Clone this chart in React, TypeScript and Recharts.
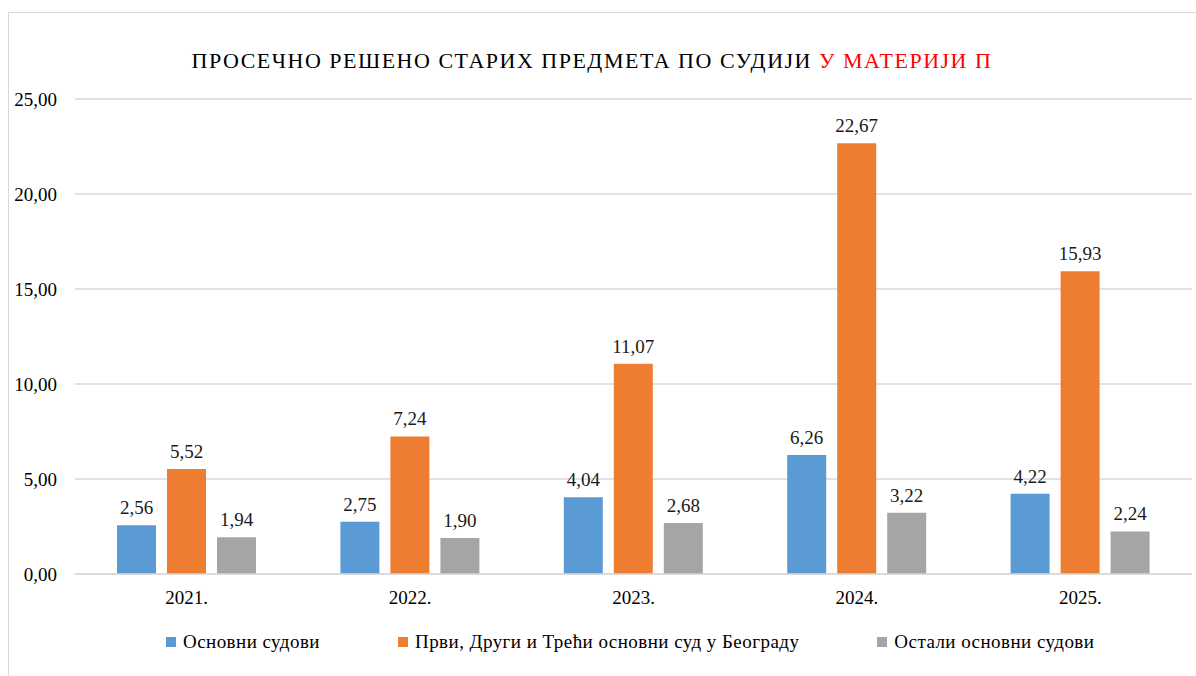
import React from 'react';
import { BarChart, Bar, XAxis, YAxis, CartesianGrid, LabelList } from 'recharts';

const years = ['2021.', '2022.', '2023.', '2024.', '2025.'];
const osnovniSudovi = [2.56, 2.75, 4.04, 6.26, 4.22];
const beogradSudovi = [5.52, 7.24, 11.07, 22.67, 15.93];
const ostaliSudovi = [1.94, 1.9, 2.68, 3.22, 2.24];
const yTicks = [0, 5, 10, 15, 20, 25];

const series = [
  { key: 'osnovni', name: 'Основни судови', color: '#5B9BD5' },
  { key: 'beograd', name: 'Први, Други и Трећи основни суд у Београду', color: '#ED7D31' },
  { key: 'ostali', name: 'Остали основни судови', color: '#A5A5A5' },
];

const data = years.map((year, i) => ({
  year,
  osnovni: osnovniSudovi[i],
  beograd: beogradSudovi[i],
  ostali: ostaliSudovi[i],
}));

const FONT = '"Liberation Serif", "Times New Roman", serif';
const fmt = (v: any) => Number(v).toFixed(2).replace('.', ',');

export default function App() {
  return (
    <div style={{ position: 'fixed', left: 0, top: 0, width: 1196, height: 676, overflow: 'hidden', background: '#fff' }}>
      <div
        style={{
          position: 'absolute',
          left: 8,
          top: 12,
          width: 1250,
          height: 700,
          border: '1px solid #D9D9D9',
          fontFamily: FONT,
        }}
      >
        <div
          style={{
            position: 'absolute',
            left: 0,
            top: 37,
            width: 1166,
            textAlign: 'center',
            fontSize: 22,
            lineHeight: '22px',
            letterSpacing: 1.5,
            whiteSpace: 'nowrap',
            color: '#000',
          }}
        >
          ПРОСЕЧНО РЕШЕНО СТАРИХ ПРЕДМЕТА ПО СУДИЈИ <span style={{ color: '#FF0000' }}>У МАТЕРИЈИ П</span>
        </div>

        <BarChart
          width={1190}
          height={660}
          data={data}
          margin={{ top: 86, right: 7, left: 0, bottom: 59 }}
          barSize={39}
          barGap={11}
        >
          <CartesianGrid vertical={false} stroke="#D9D9D9" strokeWidth={1.3} />
          <XAxis
            dataKey="year"
            height={40}
            tickSize={0}
            tickMargin={17}
            axisLine={{ stroke: '#D9D9D9', strokeWidth: 1.3 }}
            tick={{ fill: '#000', fontSize: 19, fontFamily: FONT }}
          />
          <YAxis
            width={66}
            domain={[0, 25]}
            ticks={yTicks}
            tickSize={0}
            tickMargin={18}
            axisLine={false}
            tickFormatter={fmt}
            tick={{ fill: '#000', fontSize: 19, fontFamily: FONT }}
          />
          {series.map((s) => (
            <Bar key={s.key} dataKey={s.key} name={s.name} fill={s.color} isAnimationActive={false}>
              <LabelList
                dataKey={s.key}
                position="top"
                offset={11}
                formatter={fmt}
                style={{ fill: '#1a1a1a', fontSize: 19, fontFamily: FONT }}
              />
            </Bar>
          ))}
        </BarChart>

        <div
          style={{
            position: 'absolute',
            left: 157,
            top: 619,
            display: 'flex',
            alignItems: 'center',
            fontSize: 19,
            lineHeight: '19px',
            letterSpacing: 0.45,
            whiteSpace: 'nowrap',
            color: '#000',
          }}
        >
          {series.map((s, i) => (
            <div key={s.key} style={{ display: 'flex', alignItems: 'center', marginLeft: i === 0 ? 0 : 78 }}>
              <span style={{ display: 'inline-block', width: 10, height: 10, background: s.color, marginRight: 7 }} />
              <span>{s.name}</span>
            </div>
          ))}
        </div>
      </div>
    </div>
  );
}
